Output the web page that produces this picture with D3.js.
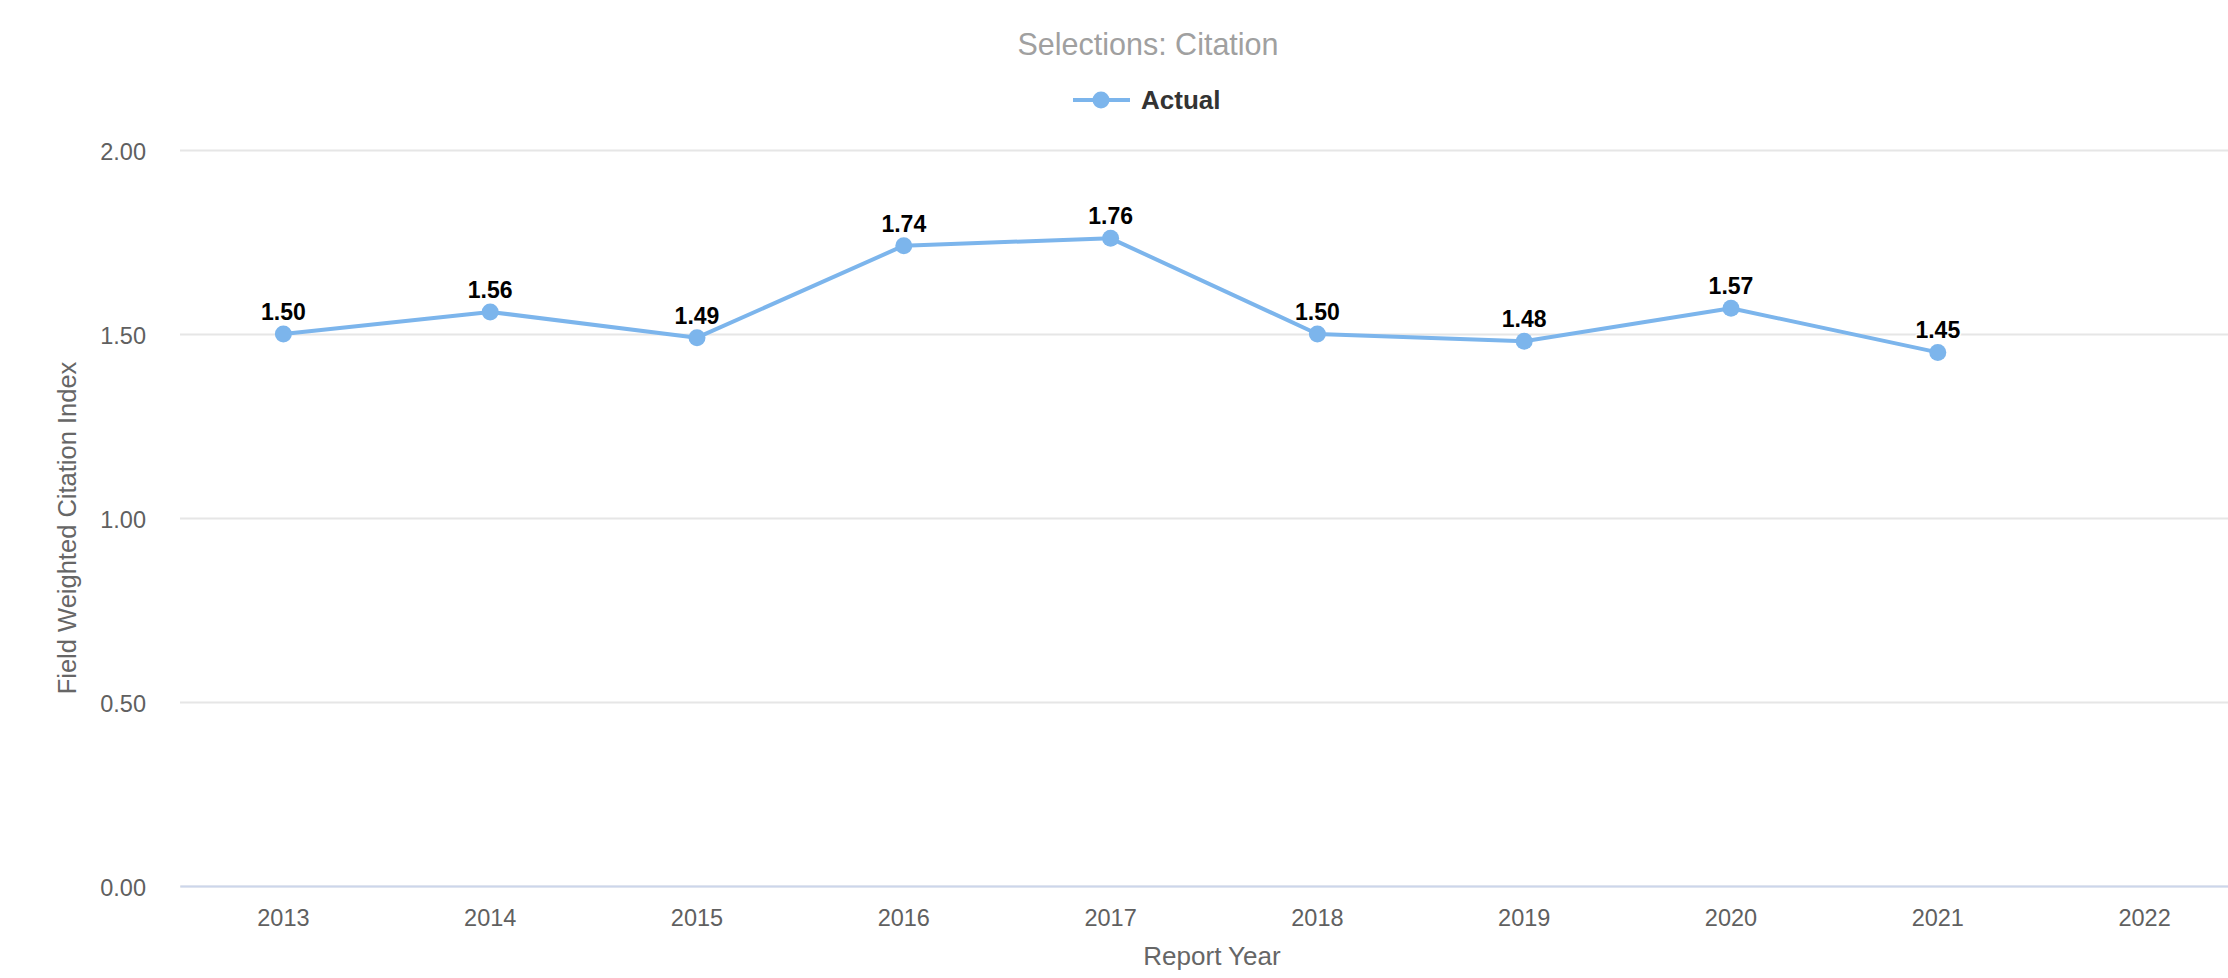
<!DOCTYPE html>
<html>
<head>
<meta charset="utf-8">
<script src="https://cdn.jsdelivr.net/npm/d3@7/dist/d3.min.js"></script>
<style>
  html, body { margin: 0; padding: 0; background: #ffffff; }
  svg { display: block; font-family: "Liberation Sans", Arial, sans-serif; }
</style>
</head>
<body>
<svg id="chart" width="2228" height="978"></svg>
<script>
const years = ["2013","2014","2015","2016","2017","2018","2019","2020","2021","2022"];
const actualYears = ["2013","2014","2015","2016","2017","2018","2019","2020","2021"];
const actualValues = [1.50, 1.56, 1.49, 1.74, 1.76, 1.50, 1.48, 1.57, 1.45];
const yTicks = [0, 0.5, 1.0, 1.5, 2.0];
const chartTitle = "Selections: Citation";
const seriesName = "Actual";
const xTitle = "Report Year";
const yTitle = "Field Weighted Citation Index";

const svg = d3.select("#chart");
const plot = { left: 180, right: 2248, top: 150, bottom: 886 };
const color = "#7cb5ec";

const x = d3.scaleBand().domain(years).range([plot.left, plot.right]);
const y = d3.scaleLinear().domain([0, 2]).range([plot.bottom, plot.top]);
const cx = d => x(d) + x.bandwidth() / 2;

// gridlines
const grid = d3.axisLeft(y).tickValues(yTicks).tickSize(-(plot.right - plot.left)).tickFormat("");
svg.append("g").attr("transform", `translate(${plot.left},0)`).call(grid)
  .call(g => g.select(".domain").remove())
  .call(g => g.selectAll("line").attr("stroke", "#e6e6e6").attr("stroke-width", 2));

// y labels
const yAxis = d3.axisLeft(y).tickValues(yTicks).tickSize(0).tickPadding(0).tickFormat(d3.format(".2f"));
svg.append("g").attr("transform", `translate(146,0)`).call(yAxis)
  .call(g => g.select(".domain").remove())
  .call(g => g.selectAll("text").attr("fill", "#606060").attr("font-size", 23.5)
    .attr("font-family", "'Liberation Sans', Arial, sans-serif").attr("dy", "0.4em"));

// x axis
const xAxis = d3.axisBottom(x).tickSize(0).tickPadding(0);
svg.append("g").attr("transform", `translate(0,${plot.bottom})`).call(xAxis)
  .call(g => g.select(".domain").attr("stroke", "#ccd6eb").attr("stroke-width", 2))
  .call(g => g.selectAll("text").attr("fill", "#606060").attr("font-size", 23.5)
    .attr("font-family", "'Liberation Sans', Arial, sans-serif").attr("y", 40).attr("dy", 0));

// axis titles
svg.append("text").attr("x", (plot.left + plot.right) / 2 - 2).attr("y", 965)
  .attr("text-anchor", "middle").attr("fill", "#666666").attr("font-size", 26).text(xTitle);
svg.append("text").attr("transform", `translate(76,${(plot.top + plot.bottom) / 2 + 10}) rotate(-90)`)
  .attr("text-anchor", "middle").attr("fill", "#666666").attr("font-size", 25.5).text(yTitle);

// title
svg.append("text").attr("x", 1148).attr("y", 55).attr("text-anchor", "middle")
  .attr("fill", "#a0a0a0").attr("font-size", 30.5).text(chartTitle);

// legend
const lg = svg.append("g");
lg.append("line").attr("x1", 1073).attr("x2", 1130).attr("y1", 100).attr("y2", 100)
  .attr("stroke", color).attr("stroke-width", 4);
lg.append("circle").attr("cx", 1101).attr("cy", 100).attr("r", 8.5).attr("fill", color);
lg.append("text").attr("x", 1141).attr("y", 109).attr("fill", "#333333")
  .attr("font-size", 26).attr("font-weight", "bold").text(seriesName);

// series
const data = actualYears.map((yr, i) => ({ yr, v: actualValues[i] }));
const line = d3.line().x(d => cx(d.yr)).y(d => y(d.v));
svg.append("path").datum(data).attr("d", line).attr("fill", "none")
  .attr("stroke", color).attr("stroke-width", 4).attr("stroke-linejoin", "round").attr("stroke-linecap", "round");
svg.append("g").selectAll("circle").data(data).join("circle")
  .attr("cx", d => cx(d.yr)).attr("cy", d => y(d.v)).attr("r", 8.5).attr("fill", color);

// data labels
svg.append("g").selectAll("text").data(data).join("text")
  .attr("x", d => cx(d.yr)).attr("y", d => y(d.v) - 14)
  .attr("text-anchor", "middle").attr("font-size", 23).attr("font-weight", "bold")
  .attr("fill", "#000000").attr("stroke", "#ffffff").attr("stroke-width", 3)
  .attr("paint-order", "stroke").attr("stroke-linejoin", "round")
  .text(d => d3.format(".2f")(d.v));
</script>
</body>
</html>
